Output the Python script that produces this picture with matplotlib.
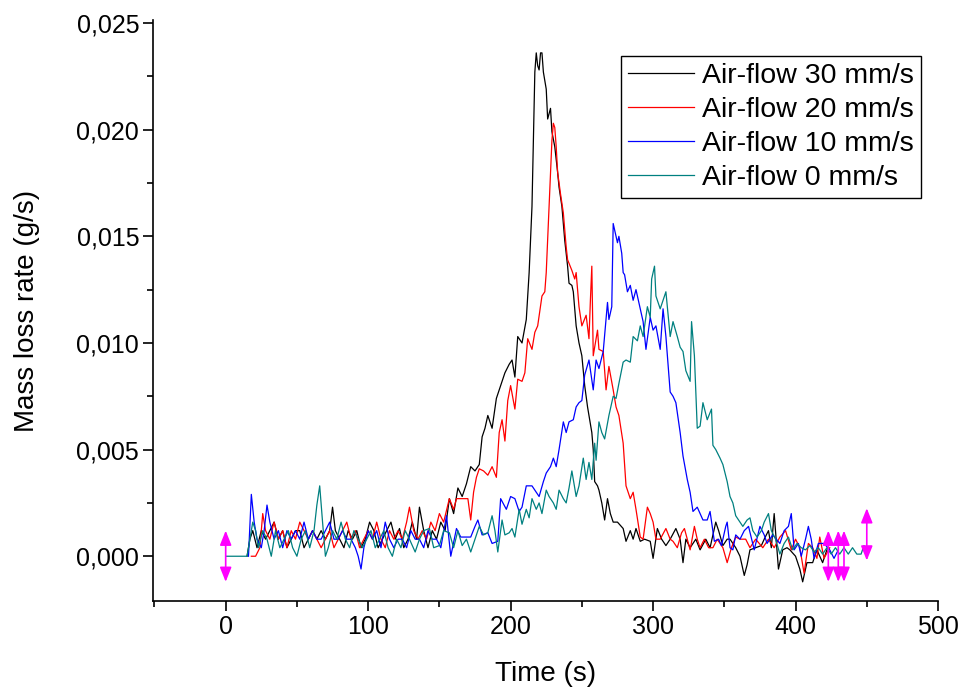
import matplotlib.pyplot as plt
from matplotlib.ticker import MultipleLocator, FuncFormatter

plt.rcParams['font.family'] = ['Liberation Sans', 'DejaVu Sans']

# Air-flow 30 mm/s
t30 = [15, 17, 19, 22, 25, 28, 31, 34, 37, 40, 43, 46, 49, 52, 55, 58, 61, 64, 67, 70,
       73, 75, 77, 80, 83, 86, 89, 92, 95, 98, 101, 104, 107, 110, 113, 116, 119, 122, 125, 128,
       131, 134, 136, 139, 142, 145, 148, 151, 154, 157, 160, 163, 166, 169, 172, 175, 178, 180, 182, 184,
       187, 190, 193, 196, 199, 201, 203, 205, 208, 211, 213, 215, 216, 217, 218, 219, 220, 221, 222, 223,
       225, 226, 228, 229, 231, 233, 234, 236, 238, 240, 241, 243, 244, 246, 248, 250, 252, 254, 255, 257,
       258, 259, 261, 262, 264, 266, 268, 270, 272, 275, 279, 281, 284, 286, 288, 291, 294, 298, 300, 303,
       306, 309, 312, 316, 319, 321, 323, 326, 330, 333, 337, 340, 344, 346, 349, 352, 354, 358, 361, 364,
       366, 368, 372, 376, 378, 381, 383, 385, 388, 391, 394, 396, 400, 403, 405, 408, 412, 415, 419, 422]
v30 = [0.0, 0.0008, 0.0012, 0.0004, 0.0012, 0.0008, 0.0012, 0.0016, 0.0008, 0.0012, 0.0004, 0.0008, 0.0012, 0.0012, 0.0004, 0.0008, 0.0012, 0.0008, 0.0012, 0.0008,
       0.0012, 0.0023, 0.0012, 0.0008, 0.0004, 0.0012, 0.0008, 0.0012, 0.0004, 0.0008, 0.0016, 0.0012, 0.0004, 0.0008, 0.0012, 0.0016, 0.0008, 0.0013, 0.0004, 0.0008,
       0.0016, 0.0008, 0.0023, 0.0012, 0.0004, 0.0012, 0.0008, 0.0016, 0.0012, 0.0027, 0.0020, 0.0032, 0.0028, 0.0034, 0.0042, 0.0040, 0.0043, 0.0056, 0.0060, 0.0066,
       0.0060, 0.0074, 0.0080, 0.0086, 0.0090, 0.0092, 0.0084, 0.0103, 0.0100, 0.0111, 0.0133, 0.0164, 0.0195, 0.0227, 0.0236, 0.0230, 0.0228, 0.0236, 0.0236, 0.0227,
       0.0219, 0.0205, 0.0210, 0.0199, 0.0192, 0.0180, 0.0173, 0.0164, 0.0148, 0.0136, 0.0128, 0.0127, 0.0124, 0.0108, 0.0100, 0.0094, 0.0080, 0.0070, 0.0066, 0.0058,
       0.0050, 0.0035, 0.0033, 0.0031, 0.0025, 0.0017, 0.0027, 0.0020, 0.0016, 0.0016, 0.0013, 0.0007, 0.0012, 0.0008, 0.0013, 0.0007, 0.0008, 0.0007, -0.0001, 0.0013,
       0.0008, 0.0005, 0.0008, 0.0013, 0.0008, -0.0003, 0.0008, 0.0004, 0.0008, 0.0003, 0.0008, 0.0004, 0.0016, 0.0012, 0.0005, 0.0008, 0.0008, 0.0004, 0.0, -0.0009,
       -0.0004, 0.0003, 0.0004, 0.0005, 0.0008, 0.0012, 0.0004, 0.0020, -0.0006, 0.0003, 0.0004, 0.0003, 0.0, -0.0006, -0.0012, -0.0003, -0.0003, 0.0003, -0.0003, 0.0003]

# Air-flow 20 mm/s
t20 = [18, 21, 24, 26, 28, 31, 34, 37, 40, 43, 46, 49, 52, 55, 58, 61, 64, 67, 70, 73,
       76, 79, 82, 85, 88, 91, 94, 97, 100, 103, 106, 109, 112, 115, 118, 121, 124, 127, 129, 132,
       135, 138, 141, 144, 147, 150, 153, 157, 160, 162, 166, 170, 172, 174, 176, 178, 181, 184, 187, 190,
       192, 194, 196, 198, 200, 203, 205, 208, 210, 212, 215, 217, 219, 222, 224, 225, 227, 229, 230, 231,
       232, 233, 235, 237, 239, 240, 243, 245, 246, 248, 250, 253, 255, 256, 257, 258, 260, 261, 262, 265,
       267, 269, 272, 274, 276, 279, 281, 284, 286, 288, 291, 293, 296, 298, 300, 302, 305, 309, 312, 314,
       317, 320, 322, 326, 329, 331, 333, 336, 339, 342, 345, 349, 352, 355, 358, 361, 365, 368, 372, 377,
       381, 385, 389, 393, 397, 400, 403, 406, 409, 412, 415, 417, 420, 424]
v20 = [0.0, 0.0, 0.0004, 0.0020, 0.0012, 0.0008, 0.0016, 0.0008, 0.0012, 0.0004, 0.0012, 0.0008, 0.0016, 0.0012, 0.0008, 0.0012, 0.0008, 0.0004, 0.0008, 0.0012,
       0.0004, 0.0008, 0.0012, 0.0016, 0.0008, 0.0012, 0.0004, 0.0008, 0.0012, 0.0008, 0.0016, 0.0008, 0.0004, 0.0012, 0.0008, 0.0012, 0.0008, 0.0016, 0.0023, 0.0012,
       0.0008, 0.0012, 0.0008, 0.0016, 0.0012, 0.0020, 0.0016, 0.0027, 0.0022, 0.0027, 0.0027, 0.0027, 0.0017, 0.0030, 0.0037, 0.0041, 0.0040, 0.0038, 0.0042, 0.0037,
       0.0058, 0.0064, 0.0054, 0.0073, 0.0080, 0.0069, 0.0083, 0.0082, 0.0086, 0.0102, 0.0097, 0.0105, 0.0108, 0.0122, 0.0124, 0.0133, 0.0164, 0.0195, 0.0203, 0.0201,
       0.0192, 0.0180, 0.0170, 0.0161, 0.0145, 0.0139, 0.0134, 0.0130, 0.0133, 0.0117, 0.0108, 0.0113, 0.0102, 0.0120, 0.0136, 0.0094, 0.0102, 0.0106, 0.0097, 0.0096,
       0.0078, 0.0089, 0.0078, 0.0070, 0.0066, 0.0053, 0.0033, 0.0027, 0.0030, 0.0022, 0.0009, 0.0008, 0.0023, 0.0020, 0.0016, 0.0008, 0.0008, 0.0013, 0.0008, 0.0007,
       0.0004, 0.0011, 0.0013, 0.0003, 0.0014, 0.0008, 0.0004, 0.0008, 0.0004, 0.0004, 0.0008, 0.0004, -0.0003, 0.0004, 0.0009, 0.0008, 0.0008, 0.0004, 0.0008, 0.0004,
       0.0008, 0.0004, 0.0009, 0.0012, 0.0003, 0.0008, 0.0004, -0.0008, 0.0006, 0.0004, -0.0001, 0.0009, -0.0001, 0.0004]

# Air-flow 10 mm/s
t10 = [16, 18, 20, 22, 25, 27, 29, 31, 34, 37, 40, 43, 46, 49, 52, 55, 58, 61, 64, 67,
       70, 73, 76, 79, 82, 85, 88, 91, 93, 95, 97, 100, 103, 106, 109, 112, 115, 118, 121, 124,
       127, 130, 133, 136, 139, 142, 145, 148, 151, 155, 158, 162, 165, 169, 172, 175, 177, 180, 184, 187,
       191, 193, 197, 200, 203, 206, 208, 211, 215, 218, 220, 223, 225, 228, 230, 232, 234, 237, 239, 241,
       244, 246, 248, 250, 252, 255, 258, 260, 262, 265, 267, 268, 269, 271, 272, 273, 275, 276, 278, 279,
       280, 282, 284, 286, 288, 291, 293, 295, 298, 300, 302, 305, 307, 309, 312, 314, 316, 319, 321, 324,
       326, 328, 331, 335, 338, 340, 343, 346, 348, 351, 352, 354, 356, 358, 361, 364, 367, 371, 375, 378,
       380, 384, 389, 392, 395, 397, 399, 402, 404, 407, 409, 411, 413, 416, 420, 424, 427, 430]
v10 = [0.0, 0.0029, 0.0016, 0.0008, 0.0004, 0.0012, 0.0024, 0.0016, 0.0008, 0.0012, 0.0004, 0.0012, 0.0008, 0.0012, 0.0008, 0.0016, 0.0008, 0.0012, 0.0008, 0.0008,
       0.0012, 0.0016, 0.0008, 0.0008, 0.0012, 0.0008, 0.0008, 0.0004, 0.0, -0.0006, 0.0004, 0.0012, 0.0008, 0.0012, 0.0004, 0.0016, 0.0008, 0.0004, 0.0008, 0.0008,
       0.0004, 0.0012, 0.0008, 0.0008, 0.0004, 0.0012, 0.0008, 0.0008, 0.0004, 0.0019, 0.0, 0.0013, 0.0009, 0.0009, 0.0009, 0.0014, 0.0017, 0.0010, 0.0011, 0.0006,
       0.0007, 0.0027, 0.0022, 0.0028, 0.0027, 0.0021, 0.0023, 0.0033, 0.0033, 0.0030, 0.0028, 0.0035, 0.0039, 0.0042, 0.0046, 0.0042, 0.0050, 0.0063, 0.0058, 0.0063,
       0.0064, 0.0070, 0.0072, 0.0073, 0.0085, 0.0092, 0.0078, 0.0092, 0.0088, 0.0096, 0.0111, 0.0119, 0.0111, 0.0117, 0.0156, 0.0153, 0.0147, 0.0150, 0.0142, 0.0133,
       0.0132, 0.0124, 0.0127, 0.0120, 0.0125, 0.0116, 0.0110, 0.0097, 0.0112, 0.0106, 0.0108, 0.0097, 0.0116, 0.0103, 0.0077, 0.0075, 0.0072, 0.0058, 0.0047, 0.0036,
       0.0030, 0.0021, 0.0023, 0.0017, 0.0017, 0.0021, 0.0007, 0.0008, 0.0005, 0.0014, 0.0016, 0.0004, 0.0003, 0.0010, 0.0008, 0.0012, 0.0014, 0.0003, 0.0014, 0.0010,
       0.0006, 0.0010, 0.0006, 0.0012, 0.0014, 0.0020, 0.0003, 0.0006, 0.0000, 0.0008, 0.0014, 0.0008, -0.0001, 0.0006, 0.0006, 0.0003, -0.0001, 0.0003]

# Air-flow 0 mm/s
t0 = [0, 15, 17, 19, 21, 23, 26, 29, 32, 35, 38, 41, 44, 47, 50, 53, 56, 59, 62, 64,
      66, 68, 70, 72, 75, 78, 81, 84, 87, 90, 93, 96, 99, 102, 105, 108, 111, 114, 117, 120,
      123, 126, 129, 133, 136, 139, 143, 146, 150, 153, 157, 160, 163, 166, 169, 172, 175, 178, 181, 184,
      187, 189, 191, 194, 196, 199, 201, 203, 206, 208, 211, 213, 215, 218, 220, 222, 225, 227, 230, 232,
      234, 237, 239, 241, 243, 246, 248, 251, 253, 255, 257, 259, 260, 262, 264, 266, 269, 272, 274, 276,
      279, 281, 284, 286, 289, 291, 293, 296, 298, 299, 301, 302, 305, 307, 309, 312, 314, 317, 319, 321,
      323, 326, 327, 329, 331, 333, 335, 338, 341, 342, 344, 347, 349, 352, 354, 356, 358, 361, 363, 366,
      368, 370, 373, 376, 378, 381, 383, 386, 389, 392, 395, 398, 401, 404, 407, 410, 413, 416, 419, 422,
      425, 428, 431, 434, 437, 440, 443, 446, 448, 450]
v0 = [0.0, 0.0, 0.0008, 0.0016, 0.0012, 0.0004, 0.0012, 0.0008, 0.0, 0.0012, 0.0004, 0.0008, 0.0012, 0.0004, 0.0, 0.0008, 0.0012, 0.0004, 0.0012, 0.0024,
      0.0033, 0.0016, 0.0, 0.0004, 0.0012, 0.0008, 0.0016, 0.0008, 0.0004, 0.0012, 0.0008, 0.0004, 0.0008, 0.0012, 0.0004, 0.0008, 0.0012, 0.0004, 0.0, 0.0008,
      0.0004, 0.0012, 0.0008, 0.0002, 0.0008, 0.0012, 0.0013, 0.0004, 0.0005, 0.0012, 0.0011, 0.0004, 0.0012, 0.0005, 0.0008, 0.0002, 0.0008, 0.0014, 0.0010, 0.0011,
      0.0019, 0.0012, 0.0002, 0.0017, 0.0010, 0.0011, 0.0013, 0.0009, 0.0022, 0.0015, 0.0022, 0.0018, 0.0027, 0.0022, 0.0025, 0.0020, 0.0031, 0.0028, 0.0025, 0.0022,
      0.0031, 0.0027, 0.0025, 0.0032, 0.0040, 0.0028, 0.0033, 0.0046, 0.0036, 0.0044, 0.0036, 0.0053, 0.0045, 0.0063, 0.0058, 0.0055, 0.0066, 0.0075, 0.0074, 0.0081,
      0.0091, 0.0092, 0.0091, 0.0103, 0.0101, 0.0108, 0.0103, 0.0117, 0.0112, 0.0130, 0.0136, 0.0122, 0.0116, 0.0120, 0.0124, 0.0103, 0.0110, 0.0103, 0.0098, 0.0096,
      0.0087, 0.0082, 0.0110, 0.0094, 0.0060, 0.0061, 0.0072, 0.0064, 0.0069, 0.0052, 0.0050, 0.0046, 0.0043, 0.0035, 0.0028, 0.0025, 0.0019, 0.0016, 0.0014, 0.0017,
      0.0018, 0.0012, 0.0009, 0.0012, 0.0016, 0.0020, 0.0012, 0.0008, 0.0001, 0.0006, 0.0009, 0.0003, 0.0006, 0.0004, 0.0003, 0.0005, 0.0002, 0.0004, 0.0001, 0.0004,
      0.0001, 0.0004, 0.0001, 0.0004, 0.0001, 0.0004, 0.0001, 0.0001, 0.0005, 0.0003]

labels = ['Air-flow 30 mm/s', 'Air-flow 20 mm/s', 'Air-flow 10 mm/s', 'Air-flow 0 mm/s']
colors = ['black', 'red', 'blue', '#008080']

# pink range markers (x, bottom, top)
marker_x = [0, 423, 430, 434, 450]
marker_lo = [-0.0012, -0.0012, -0.0012, -0.0012, -0.0002]
marker_hi = [0.0012, 0.0012, 0.0012, 0.0012, 0.00225]

fig = plt.figure(figsize=(9.6, 6.91), dpi=100)
ax = fig.add_axes([0.1594, 0.1302, 0.8177, 0.8408])

for t, v, lab, c in zip([t30, t20, t10, t0], [v30, v20, v10, v0], labels, colors):
    ax.plot(t, v, color=c, lw=0.9, label=lab)

for x, lo, hi in zip(marker_x, marker_lo, marker_hi):
    ax.annotate('', xy=(x, hi), xytext=(x, lo),
                arrowprops=dict(arrowstyle='<|-|>,head_length=0.55,head_width=0.22', color='#FF00FF',
                                lw=1.2, mutation_scale=16, shrinkA=0, shrinkB=0))

ax.set_xlim(-51, 500)
ax.set_ylim(-0.0021, 0.02514)
ax.xaxis.set_major_locator(MultipleLocator(100))
ax.xaxis.set_minor_locator(MultipleLocator(50))
ax.yaxis.set_major_locator(MultipleLocator(0.005))
ax.yaxis.set_minor_locator(MultipleLocator(0.0025))
ax.yaxis.set_major_formatter(FuncFormatter(lambda y, p: f'{y:.3f}'.replace('.', ',').replace('-0,000', '0,000')))

ax.spines['top'].set_visible(False)
ax.spines['right'].set_visible(False)
for s in ['left', 'bottom']:
    ax.spines[s].set_linewidth(1.2)
ax.tick_params(which='major', direction='out', length=7, width=1.2, labelsize=18, pad=3)
ax.tick_params(which='minor', direction='out', length=4, width=1.2)

ax.set_xlabel('Time (s)', fontsize=20, labelpad=16)
ax.set_ylabel('Mass loss rate (g/s)', fontsize=20, labelpad=26)

leg = ax.legend(loc='upper right', bbox_to_anchor=(0.997, 0.963), fontsize=20.5,
                frameon=True, fancybox=False, edgecolor='black', framealpha=1,
                handlelength=2.3, handletextpad=0.3, labelspacing=0.28, borderpad=0.25)
leg.get_frame().set_linewidth(1.0)

fig.savefig('out.png', dpi=100)
